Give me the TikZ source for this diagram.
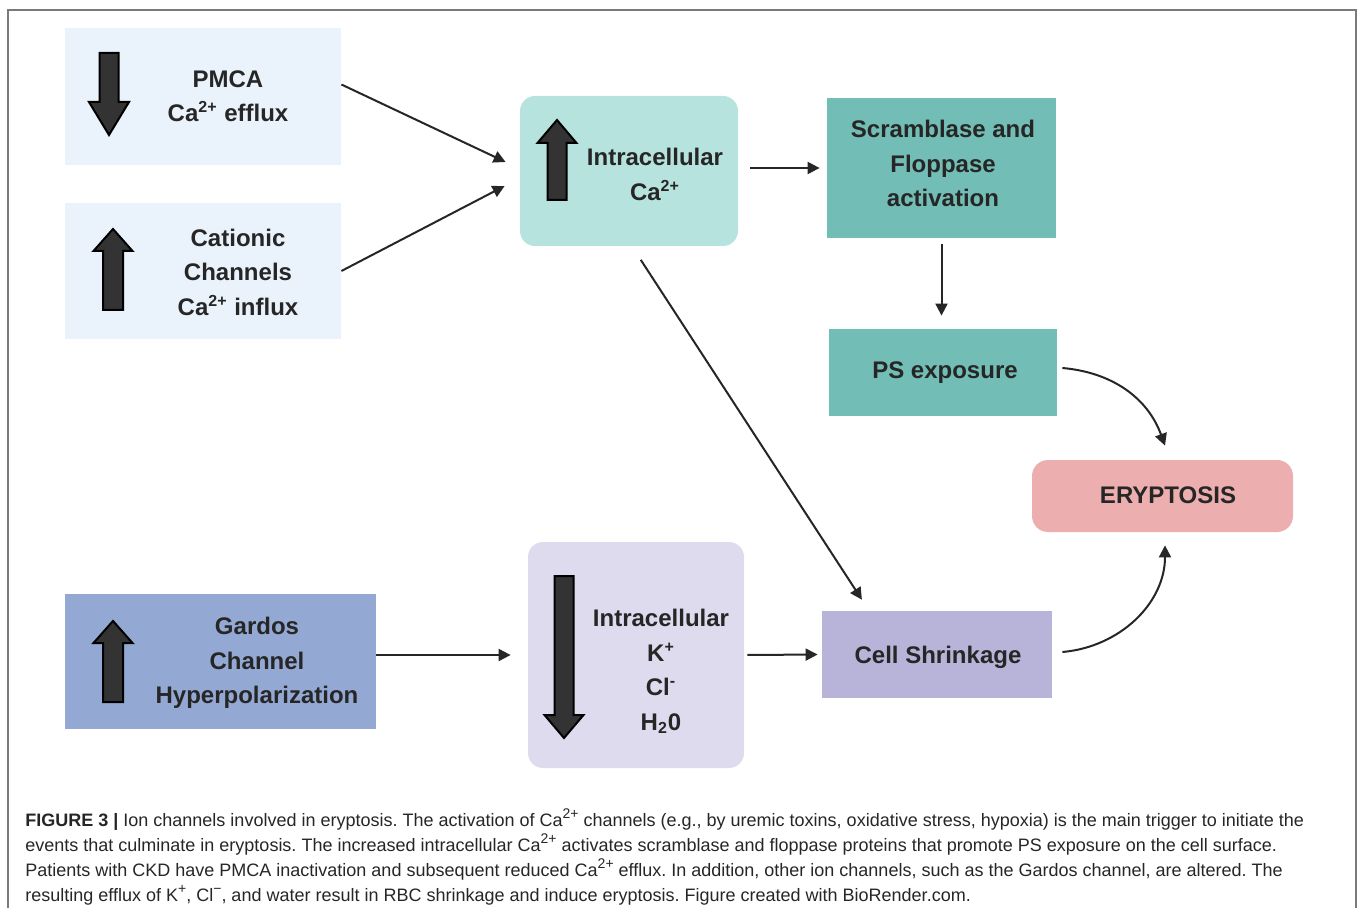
\documentclass[tikz,border=0pt]{standalone}
\usepackage{fontspec}
\setmainfont{Liberation Sans}
\newfontfamily\capfont{Liberation Sans}
\usetikzlibrary{arrows.meta}

\definecolor{txt}{HTML}{262626}
\definecolor{framegray}{HTML}{7A7A7A}
\definecolor{paleblue}{HTML}{EAF2FB}
\definecolor{mint}{HTML}{B7E3DE}
\definecolor{teal}{HTML}{72BDB5}
\definecolor{rose}{HTML}{ECAEAE}
\definecolor{gardos}{HTML}{93A9D4}
\definecolor{lilac}{HTML}{DEDBEE}
\definecolor{lavender}{HTML}{B8B3D9}

% fat arrow inside a box: x, tail y, head base y, tip y, half shaft, half head
\newcommand{\blockarrow}[6]{%
  \draw[blockarr] (#1-#5,#2) -- (#1-#5,#3) -- (#1-#6,#3) -- (#1,#4)
    -- (#1+#6,#3) -- (#1+#5,#3) -- (#1+#5,#2) -- cycle;}
% caption superscript
\newcommand{\capsup}[1]{\raisebox{0.45em}{\fontsize{7}{7}\selectfont #1}}

\tikzset{
  box/.style={rectangle, inner sep=0pt, draw=none},
  lbl/.style={font=\bfseries\fontsize{12}{17.25}\selectfont, text=txt, align=center, inner sep=0pt},
  conn/.style={line width=1pt, draw=txt, -{Triangle[length=6pt,width=6pt]}},
  blockarr/.style={fill=black!80, draw=black, line width=1pt, line join=miter},
}

\begin{document}
\frenchspacing
\begin{tikzpicture}[x=0.5pt, y=-0.5pt]
  \useasboundingbox (0,0) rectangle (1358,908);
  \draw[framegray, line width=0.8pt] (8,10) rectangle (1356,960);

  % boxes
  \node[box, fill=paleblue, minimum width=138pt, minimum height=68.5pt] (pmca) at (203,96.5) {};
  \node[box, fill=paleblue, minimum width=138pt, minimum height=68pt] (cation) at (203,271) {};
  \node[box, fill=mint, rounded corners=7.5pt, minimum width=109pt, minimum height=75pt] (ica) at (629,171) {};
  \node[box, fill=teal, minimum width=114.5pt, minimum height=70pt] (scr) at (941.5,168) {};
  \node[box, fill=teal, minimum width=114pt, minimum height=43.5pt] (ps) at (943,372.5) {};
  \node[box, fill=rose, rounded corners=8pt, minimum width=130.5pt, minimum height=36pt] (ery) at (1162.5,496) {};
  \node[box, fill=gardos, minimum width=155.5pt, minimum height=67.5pt] (gard) at (220.5,661.5) {};
  \node[box, fill=lilac, rounded corners=7.5pt, minimum width=108pt, minimum height=113pt] (ik) at (636,655) {};
  \node[box, fill=lavender, minimum width=115pt, minimum height=43.5pt] (shrink) at (937,654.5) {};

  % labels
  \node[lbl] (pmcatxt) at (228,96) {PMCA\\Ca\textsuperscript{2+} efflux};
  \node[lbl] (cattxt) at (238,272) {Cationic\\Channels\\Ca\textsuperscript{2+} influx};
  \node[lbl] (icatxt) at (655,174.5) {Intracellular\\Ca\textsuperscript{2+}};
  \node[lbl] (scrtxt) at (943,163.5) {Scramblase and\\Floppase\\activation};
  \node[lbl] (pstxt) at (945,373) {PS exposure};
  \node[lbl] (erytxt) at (1168,495) {ERYPTOSIS};
  \node[lbl] (gardtxt) at (257,663) {Gardos\\Channel\\Hyperpolarization};
  \node[lbl] (iktxt) at (661,671.5) {Intracellular\\K\textsuperscript{+}\\Cl\textsuperscript{-}\\H\textsubscript{2}0};
  \node[lbl] (shrtxt) at (938,657) {Cell Shrinkage};

  % up / down arrows
  \blockarrow{109}{53}{102}{135}{9.5}{20}
  \blockarrow{113}{310}{251}{229}{10}{19.5}
  \blockarrow{557}{200}{143}{120}{9.5}{19.5}
  \blockarrow{113}{702}{643}{621}{10}{19.5}
  \blockarrow{564}{576}{715}{738}{9.5}{19.5}

  % connectors
  \draw[conn] ([yshift=6pt]pmca.east) -- ([shift={(-7pt,4.5pt)}]ica.west);
  \draw[conn] (cation.east) -- ([shift={(-7.5pt,-7.5pt)}]ica.west);
  \draw[conn, shorten <=6pt, shorten >=3.5pt] (ica.east|-scr.west) -- (scr.west);
  \draw[conn, shorten <=8pt, shorten >=6.5pt] ([xshift=1.5pt]ica.south) -- ([xshift=-34pt]shrink.north);
  \draw[conn, shorten <=3pt, shorten >=6.5pt] (scr.south) -- (scr.south|-ps.north);
  \draw[conn] ([shift={(2.5pt,2.25pt)}]ps.east) to[out=-5, in=110] ([shift={(1.25pt,7pt)}]ery.north);
  \draw[conn, shorten >=8.5pt] (gard.east|-ik.west) -- (ik.west);
  \draw[conn, shorten <=1.5pt, shorten >=2pt] (ik.east) -- (shrink.west);
  \draw[conn] ([shift={(5pt,1.25pt)}]shrink.east) to[out=5, in=-90] ([shift={(1.25pt,-6.5pt)}]ery.south);

  \node[anchor=north west, inner sep=0pt, align=left, text=txt,
        font=\capfont\fontsize{9}{12.5}\selectfont] (caption) at (25,808)
    {\textbf{FIGURE 3 |} Ion channels involved in eryptosis. The activation of Ca\capsup{2+} channels (e.g., by uremic toxins, oxidative stress, hypoxia) is the main trigger to initiate the\\
     events that culminate in eryptosis. The increased intracellular Ca\capsup{2+} activates scramblase and floppase proteins that promote PS exposure on the cell surface.\\
     Patients with CKD have PMCA inactivation and subsequent reduced Ca\capsup{2+} efflux. In addition, other ion channels, such as the Gardos channel, are altered. The\\
     resulting efflux of K\capsup{+}, Cl\capsup{−}, and water result in RBC shrinkage and induce eryptosis. Figure created with BioRender.com.};
\end{tikzpicture}
\end{document}
